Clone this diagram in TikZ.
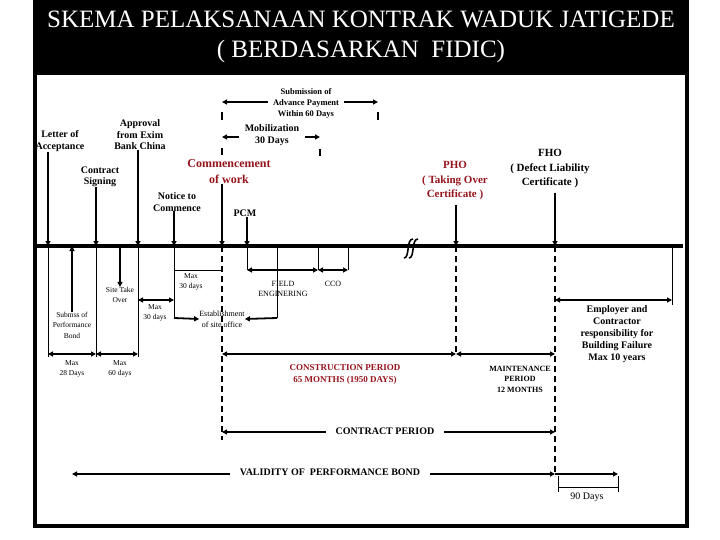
\documentclass[tikz,border=0pt]{standalone}
\usepackage{fontspec}
\setmainfont{Liberation Serif}
\usetikzlibrary{arrows.meta, positioning}
\definecolor{skred}{RGB}{150,20,28}
\definecolor{skink}{RGB}{0,0,0}

\begin{document}
\begin{tikzpicture}[
    x=1pt, y=-1pt,
    >={Triangle[length=5pt,width=5pt]},
    %% ── text styles ──────────────────────────────────────────────────────────
    titletext/.style={
        text=white, align=center, inner sep=0pt,
        font=\fontsize{25}{30}\selectfont
    },
    evt/.style={
        align=center, inner sep=0pt, text=skink,
        font=\bfseries\fontsize{10}{11.5}\selectfont
    },
    evtred/.style={
        evt, text=skred, font=\bfseries\fontsize{12}{16}\selectfont
    },
    evtmid/.style={
        evt, font=\bfseries\fontsize{11}{14.5}\selectfont
    },
    note/.style={
        align=center, inner sep=0pt,
        font=\fontsize{7.5}{10.5}\selectfont
    },
    small/.style={
        align=center, inner sep=0pt,
        font=\bfseries\fontsize{8.5}{11}\selectfont
    },
    period/.style={
        align=center, inner sep=0pt,
        font=\bfseries\fontsize{9}{12}\selectfont
    },
    %% ── line styles ──────────────────────────────────────────────────────────
    timeline/.style={draw=skink, line width=3.6pt},
    pin/.style={->, draw=skink, line width=1.8pt},
    dim/.style={<->, draw=skink, line width=1.8pt},
    guide/.style={draw=skink, line width=0.8pt},
    tick/.style={draw=skink, line width=1.2pt},
    cut/.style={draw=skink, line width=2pt, dash pattern=on 6pt off 4pt},
    brk/.style={draw=skink, line width=1.6pt},
]
\useasboundingbox (0,0) rectangle (720,540);

%% ── Title band and frame ────────────────────────────────────────────────────
\fill[skink] (33,0) rectangle (689,75);
\node[titletext] (title) at (361,37)
    {SKEMA PELAKSANAAN KONTRAK WADUK JATIGEDE\\( BERDASARKAN\ \ FIDIC)};
\draw[skink, line width=3.6pt] (34.8,75) -- (34.8,526.2) -- (687.2,526.2) -- (687.2,75);

%% ── Time axis ───────────────────────────────────────────────────────────────
\coordinate (tl-start) at (36,246);
\coordinate (tl-end)   at (683,246);
\draw[timeline] (tl-start) -- (tl-end);

\coordinate (t-loa)  at (48,246);
\coordinate (t-sub)  at (72,246);
\coordinate (t-sign) at (96,246);
\coordinate (t-site) at (120,246);
\coordinate (t-exim) at (138,246);
\coordinate (t-ntc)  at (174,246);
\coordinate (t-cmc)  at (222,246);
\coordinate (t-pcm)  at (247,246);
\coordinate (t-fld)  at (277,246);
\coordinate (t-ccoa) at (318,246);
\coordinate (t-ccob) at (348,246);
\coordinate (t-pho)  at (456,246);
\coordinate (t-fho)  at (555,246);
\coordinate (t-emp)  at (672,246);

%% break mark
\draw[brk] (404,258) .. controls (410,258) and (406,239) .. (413,239);
\draw[brk] (409,258) .. controls (415,258) and (411,239) .. (418,239);

%% ── Events above the axis ───────────────────────────────────────────────────
\node[evt] (loa)  at (60,141)  {Letter of\\Acceptance};
\node[evt] (sign) at (100,177) {Contract\\Signing};
\node[evt] (exim) at (140,135) {Approval\\from Exim\\Bank China};
\node[evt] (ntc)  at (177,202) {Notice to\\Commence};
\node[evtred] (cmc) at (229,172) {Commencement\\of work};
\node[evt] (pcm)  at (245,213) {PCM};
\node[evtmid, text=skred] (pho) at (455,181) {PHO\\( Taking Over\\Certificate )};
\node[evtmid] (fho) at (550,169) {FHO\\( Defect Liability\\Certificate )};

\draw[pin] (loa.south -| t-loa)   -- (t-loa);
\draw[pin] (sign.south -| t-sign) -- (t-sign);
\draw[pin] (exim.south -| t-exim) -- (t-exim);
\draw[pin] (ntc.south -| t-ntc)   -- (t-ntc);
\draw[pin] (cmc.south -| t-cmc)   -- (t-cmc);
\draw[pin] (pcm.south -| t-pcm)   -- (t-pcm);
\draw[pin] ([yshift=-4pt]pho.south -| t-pho) -- (t-pho);
\draw[pin] ([yshift=-4pt]fho.south -| t-fho) -- (t-fho);

%% ── Mobilization / advance payment ──────────────────────────────────────────
\coordinate (adv-l) at (222,102);
\coordinate (adv-r) at (378,102);
\coordinate (mob-l) at (222,137);
\coordinate (mob-r) at (320,137);
\draw[dim] (adv-l) -- (adv-r);
\draw[dim] (mob-l) -- (mob-r);
\node[small, fill=white, inner xsep=5pt] (adv) at (306,103)
    {Submission of\\Advance Payment\\Within 60 Days};
\node[evt, fill=white, inner xsep=6pt, font=\bfseries\fontsize{10}{12}\selectfont]
    (mob) at (272,135) {Mobilization\\30 Days};
\draw[tick] (222,112) -- (222,120);
\draw[tick] (378,112) -- (378,120);
\draw[tick] (222,148) -- (222,155);
\draw[tick] (320,149) -- (320,156);

%% ── Below the axis: early steps ─────────────────────────────────────────────
\coordinate (row-d) at (0,270);
\coordinate (row-b) at (0,300);
\coordinate (row-c) at (0,318);
\coordinate (row-a) at (0,354);
\coordinate (row-g) at (0,432);
\coordinate (row-h) at (0,474);

\draw[guide] (t-loa)  -- ++(0,111);
\draw[guide] (t-sign) -- ++(0,111);
\draw[guide] (t-exim) -- ++(0,111);
\draw[guide] (t-ntc)  -- ++(0,72);
\draw[guide] (t-fld)  -- ++(0,72);
\draw[guide] (t-pcm)  -- ++(0,24);
\draw[guide] (t-ccoa) -- ++(0,24);
\draw[guide] (t-ccob) -- ++(0,24);
\draw[guide] (t-emp)  -- ++(0,59);
\draw[guide] (t-ntc |- row-d) -- (t-cmc |- row-d);

\node[note] (sub)  at (72,325)  {Submss of\\Performance\\Bond};
\node[note] (site) at (120,295) {Site Take\\Over};
\node[note] (m30a) at (191,282) {Max\\30 days};
\node[note] (m30b) at (155,313) {Max\\30 days};
\node[note] (m28)  at (72,369)  {Max\\28 Days};
\node[note] (m60)  at (120,369) {Max\\60 days};
\node[note, font=\fontsize{8}{11}\selectfont] (est) at (222,319)
    {Establishment\\of site office};
\node[note, font=\fontsize{8}{10}\selectfont] (fld) at (283,289) {FIELD\\ENGINERING};
\node[note, font=\fontsize{8}{10}\selectfont] (cco) at (333,284) {CCO};

\draw[pin] (sub.north) -- (t-sub);
\draw[pin] (t-site) -- (site.north);
\draw[pin] (t-ntc |- row-c) -- (est.west);
\draw[pin] (t-fld |- row-c) -- (est.east);

\draw[dim] (t-loa |- row-a)  -- (t-sign |- row-a);
\draw[dim] (t-sign |- row-a) -- (t-exim |- row-a);
\draw[dim] (t-exim |- row-b) -- (t-ntc |- row-b);
\draw[dim] (t-pcm |- row-d)  -- (t-ccoa |- row-d);
\draw[dim] (t-ccoa |- row-d) -- (t-ccob |- row-d);

%% ── Periods ─────────────────────────────────────────────────────────────────
\draw[cut] (t-cmc) -- ++(0,194);
\draw[cut] (t-pho) -- ++(0,109);
\draw[cut] (t-fho) -- ++(0,230);

\draw[dim] (t-cmc |- row-a) -- (t-pho |- row-a);
\draw[dim] (t-pho |- row-a) -- (t-fho |- row-a);
\draw[dim] (t-fho |- row-b) -- (t-emp |- row-b);

\node[period, text=skred] (cons) at (345,374)
    {CONSTRUCTION PERIOD\\65 MONTHS (1950 DAYS)};
\node[period, font=\bfseries\fontsize{8}{10.5}\selectfont] (maint) at (520,379)
    {MAINTENANCE\\PERIOD\\12 MONTHS};
\node[evt, font=\bfseries\fontsize{10}{12}\selectfont] (emp) at (617,334)
    {Employer and\\Contractor\\responsibility for\\Building Failure\\Max 10 years};

\draw[dim] (t-cmc |- row-g) -- (t-fho |- row-g);
\node[evt, fill=white, inner xsep=10pt] (contract) at (385,431) {CONTRACT PERIOD};

\draw[dim] (t-sub |- row-h) -- (t-fho |- row-h);
\node[evt, fill=white, inner xsep=10pt] (valid) at (330,472)
    {VALIDITY OF\ \ PERFORMANCE BOND};

\coordinate (d90) at (618,474);
\draw[pin] (t-fho |- row-h) -- (d90);
\draw[guide] (558,476) -- (558,492) (558,487) -- (618,487) (618,476) -- (618,492);
\node[note, font=\fontsize{10}{12}\selectfont] (days) at (587,497) {90 Days};

\end{tikzpicture}
\end{document}
